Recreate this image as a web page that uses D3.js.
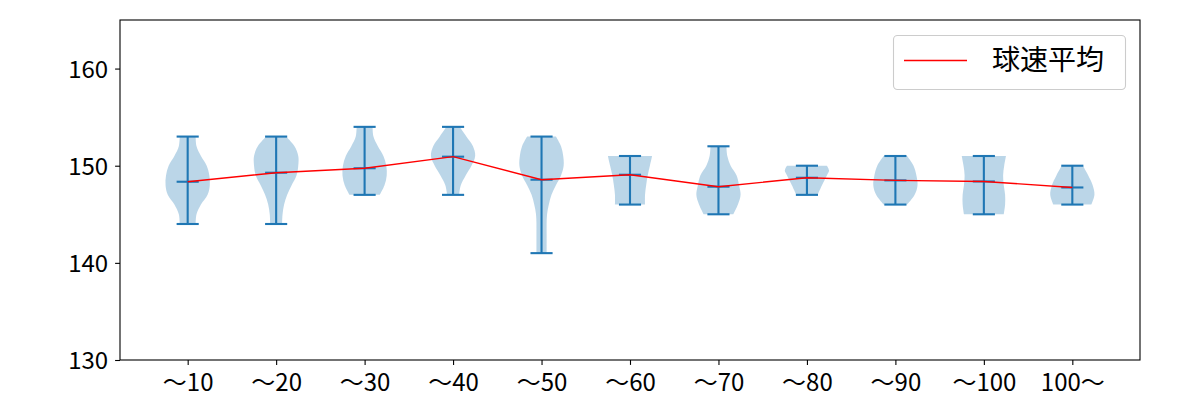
<!DOCTYPE html>
<html><head><meta charset="utf-8">
<script src="https://cdn.jsdelivr.net/npm/d3@7/dist/d3.min.js"></script>
<style>body{margin:0;background:#fff}svg{display:block}text{font-family:"Noto Sans CJK JP","Noto Sans",sans-serif}</style>
</head><body>
<script>
const categories = ["～10","～20","～30","～40","～50","～60","～70","～80","～90","～100","100～"];
const means = [148.35, 149.28, 149.74, 150.93, 148.56, 149.07, 147.84, 148.76, 148.49, 148.38, 147.76];
const mins  = [144, 144, 147, 147, 141, 146, 145, 147, 146, 145, 146];
const maxs  = [153, 153, 154, 154, 153, 151, 152, 150, 151, 151, 150];
// violin outline: [pitch, relative half-width]
const profiles = [
  [[153,0.36],[152,0.40],[151,0.60],[150,0.86],[149,0.98],[148,1.00],[147,0.90],[146,0.60],[145,0.40],[144,0.36]],
  [[153,0.45],[152,0.83],[151,1.00],[150,1.00],[149,0.92],[148,0.70],[147,0.50],[146,0.36],[145,0.29],[144,0.27]],
  [[154,0.36],[153,0.40],[152,0.60],[151,0.85],[150,0.98],[149,1.00],[148,0.90],[147,0.68]],
  [[154,0.30],[153,0.60],[152,0.90],[151,1.00],[150,0.83],[149,0.57],[148,0.35],[147,0.27]],
  [[153,0.65],[152,0.88],[151,0.98],[150,1.00],[149,0.88],[148,0.65],[147,0.45],[146,0.33],[145,0.25],[144,0.23],[143,0.23],[142,0.23],[141,0.23]],
  [[151,1.00],[150,0.90],[149,0.80],[148,0.73],[147,0.68],[146,0.68]],
  [[152,0.36],[151,0.40],[150,0.55],[149,0.82],[148,0.93],[147,1.00],[146,0.88],[145,0.67]],
  [[150,0.90],[149.5,1.00],[149,0.90],[148,0.68],[147,0.48]],
  [[151,0.53],[150,0.82],[149,0.95],[148,1.00],[147,0.87],[146,0.53]],
  [[151,1.00],[150,0.92],[149,0.87],[148,0.90],[147,0.96],[146,0.96],[145,0.90]],
  [[150,0.48],[149,0.72],[148,0.92],[147,1.00],[146,0.86]]
];
const yTicks = [130, 140, 150, 160];
const legendLabel = "球速平均";

const W = 1200, H = 400;
const L = 120, R = 1140, T = 20, B = 360;
const svg = d3.select("body").append("svg").attr("width", W).attr("height", H);

const x = d3.scaleLinear().domain([0.235, 11.765]).range([L, R]);
const y = d3.scaleLinear().domain([130, 165]).range([B, T]);
const pos = categories.map((c, i) => i + 1);
const blue = "#1f77b4";
const halfW = 0.25, capHalf = 0.125;

const g = svg.append("g");
// violins
profiles.forEach((prof, i) => {
  const p = pos[i];
  const area = d3.area()
    .y(d => y(d[0]))
    .x0(d => x(p - halfW * d[1]))
    .x1(d => x(p + halfW * d[1]))
    .curve(d3.curveCatmullRom.alpha(0.5));
  g.append("path").attr("d", area(prof)).attr("fill", blue).attr("fill-opacity", 0.3);
});
// violin lines
pos.forEach((p, i) => {
  const lw = 2.1;
  g.append("line").attr("x1", x(p)).attr("x2", x(p)).attr("y1", y(mins[i])).attr("y2", y(maxs[i]))
    .attr("stroke", blue).attr("stroke-width", lw);
  [mins[i], maxs[i], means[i]].forEach(v => {
    g.append("line").attr("x1", x(p - capHalf)).attr("x2", x(p + capHalf)).attr("y1", y(v)).attr("y2", y(v))
      .attr("stroke", blue).attr("stroke-width", lw);
  });
});
// mean line
const line = d3.line().x((d, i) => x(pos[i])).y(d => y(d));
g.append("path").attr("d", line(means)).attr("fill", "none").attr("stroke", "red").attr("stroke-width", 1.4);

// frame
svg.append("rect").attr("x", L).attr("y", T).attr("width", R - L).attr("height", B - T)
  .attr("fill", "none").attr("stroke", "#000").attr("stroke-width", 1.1);

// axes
const xAxis = d3.axisBottom(x).tickValues(pos).tickFormat((d, i) => categories[i]).tickSize(4.9).tickPadding(4);
const gx = svg.append("g").attr("transform", `translate(0,${B})`).call(xAxis);
gx.select(".domain").remove();
gx.selectAll("line").attr("stroke", "#000").attr("stroke-width", 1.1);
gx.selectAll("text").attr("font-size", 24).attr("fill", "#000").attr("dy", null).attr("y", 31);

const yAxis = d3.axisLeft(y).tickValues(yTicks).tickSize(4.9).tickPadding(7);
const gy = svg.append("g").attr("transform", `translate(${L},0)`).call(yAxis);
gy.select(".domain").remove();
gy.selectAll("line").attr("stroke", "#000").attr("stroke-width", 1.1);
gy.selectAll("text").attr("font-size", 24).attr("fill", "#000").attr("dy", "0.36em");

// legend
const lg = svg.append("g");
lg.append("rect").attr("x", 893.5).attr("y", 35.5).attr("width", 232).attr("height", 54).attr("rx", 4)
  .attr("fill", "#fff").attr("fill-opacity", 0.8).attr("stroke", "#ccc").attr("stroke-width", 1.1);
lg.append("line").attr("x1", 904).attr("x2", 967).attr("y1", 60.5).attr("y2", 60.5)
  .attr("stroke", "red").attr("stroke-width", 1.4);
lg.append("text").attr("x", 992).attr("y", 70).attr("font-size", 28).attr("fill", "#000").text(legendLabel);
</script>
</body></html>
